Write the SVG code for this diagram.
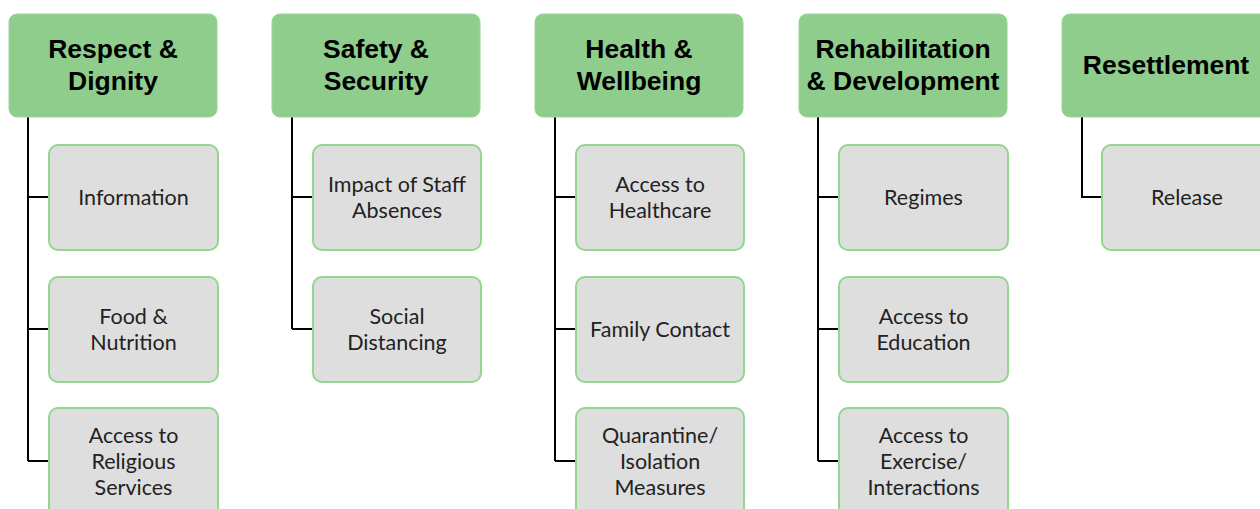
<svg xmlns="http://www.w3.org/2000/svg" width="1260" height="509" viewBox="0 0 1260 509">
<style>
.hdr{fill:#8ecd8c;stroke:#9ad598;stroke-width:1}
.hdt{font-family:"Liberation Sans",Arial,sans-serif;font-weight:bold;font-size:26.5px;fill:#000;text-anchor:middle}
.box{fill:#dedede;stroke:#92d690;stroke-width:2}
.bxt{font-family:Lato,"Open Sans",sans-serif;font-size:21.5px;fill:#222;text-anchor:middle}
.cn{fill:none;stroke:#000;stroke-width:2}
</style>
<rect width="1260" height="509" fill="#fff"/>
<g id="connectors">
<path class="cn" d="M28,117V461M28,197H49M28,329H49M28,461H49"/>
<path class="cn" d="M292,117V329M292,197H313M292,329H313"/>
<path class="cn" d="M555,117V461M555,197H576M555,329H576M555,461H576"/>
<path class="cn" d="M818,117V461M818,197H839M818,329H839M818,461H839"/>
<path class="cn" d="M1082,117V197H1102"/>
</g>
<g id="h1"><rect class="hdr" x="9" y="14" width="208" height="103" rx="8"/><text class="hdt" x="113" y="57.5">Respect &amp;</text><text class="hdt" x="113" y="89.5">Dignity</text></g>
<g id="h2"><rect class="hdr" x="272" y="14" width="208" height="103" rx="8"/><text class="hdt" x="376" y="57.5">Safety &amp;</text><text class="hdt" x="376" y="89.5">Security</text></g>
<g id="h3"><rect class="hdr" x="535" y="14" width="208" height="103" rx="8"/><text class="hdt" x="639" y="57.5">Health &amp;</text><text class="hdt" x="639" y="89.5">Wellbeing</text></g>
<g id="h4"><rect class="hdr" x="799" y="14" width="208" height="103" rx="8"/><text class="hdt" x="903" y="57.5">Rehabilitation</text><text class="hdt" x="903" y="89.5">&amp; Development</text></g>
<g id="h5"><rect class="hdr" x="1062" y="14" width="208" height="103" rx="8"/><text class="hdt" x="1166" y="73.5">Resettlement</text></g>

<g id="c1a"><rect class="box" x="49" y="145" width="169" height="105" rx="9"/><text class="bxt" x="133.5" y="205">Information</text></g>
<g id="c1b"><rect class="box" x="49" y="277" width="169" height="105" rx="9"/><text class="bxt" x="133.5" y="324">Food &amp;</text><text class="bxt" x="133.5" y="350">Nutrition</text></g>
<g id="c1c"><rect class="box" x="49" y="408" width="169" height="110" rx="9"/><text class="bxt" x="133.5" y="443">Access to</text><text class="bxt" x="133.5" y="469">Religious</text><text class="bxt" x="133.5" y="495">Services</text></g>

<g id="c2a"><rect class="box" x="313" y="145" width="168" height="105" rx="9"/><text class="bxt" x="397" y="192">Impact of Staff</text><text class="bxt" x="397" y="218">Absences</text></g>
<g id="c2b"><rect class="box" x="313" y="277" width="168" height="105" rx="9"/><text class="bxt" x="397" y="324">Social</text><text class="bxt" x="397" y="350">Distancing</text></g>

<g id="c3a"><rect class="box" x="576" y="145" width="168" height="105" rx="9"/><text class="bxt" x="660" y="192">Access to</text><text class="bxt" x="660" y="218">Healthcare</text></g>
<g id="c3b"><rect class="box" x="576" y="277" width="168" height="105" rx="9"/><text class="bxt" x="660" y="337">Family Contact</text></g>
<g id="c3c"><rect class="box" x="576" y="408" width="168" height="110" rx="9"/><text class="bxt" x="660" y="443">Quarantine/</text><text class="bxt" x="660" y="469">Isolation</text><text class="bxt" x="660" y="495">Measures</text></g>

<g id="c4a"><rect class="box" x="839" y="145" width="169" height="105" rx="9"/><text class="bxt" x="923.5" y="205">Regimes</text></g>
<g id="c4b"><rect class="box" x="839" y="277" width="169" height="105" rx="9"/><text class="bxt" x="923.5" y="324">Access to</text><text class="bxt" x="923.5" y="350">Education</text></g>
<g id="c4c"><rect class="box" x="839" y="408" width="169" height="110" rx="9"/><text class="bxt" x="923.5" y="443">Access to</text><text class="bxt" x="923.5" y="469">Exercise/</text><text class="bxt" x="923.5" y="495">Interactions</text></g>

<g id="c5a"><rect class="box" x="1102" y="145" width="169" height="105" rx="9"/><text class="bxt" x="1187" y="205">Release</text></g>
</svg>
